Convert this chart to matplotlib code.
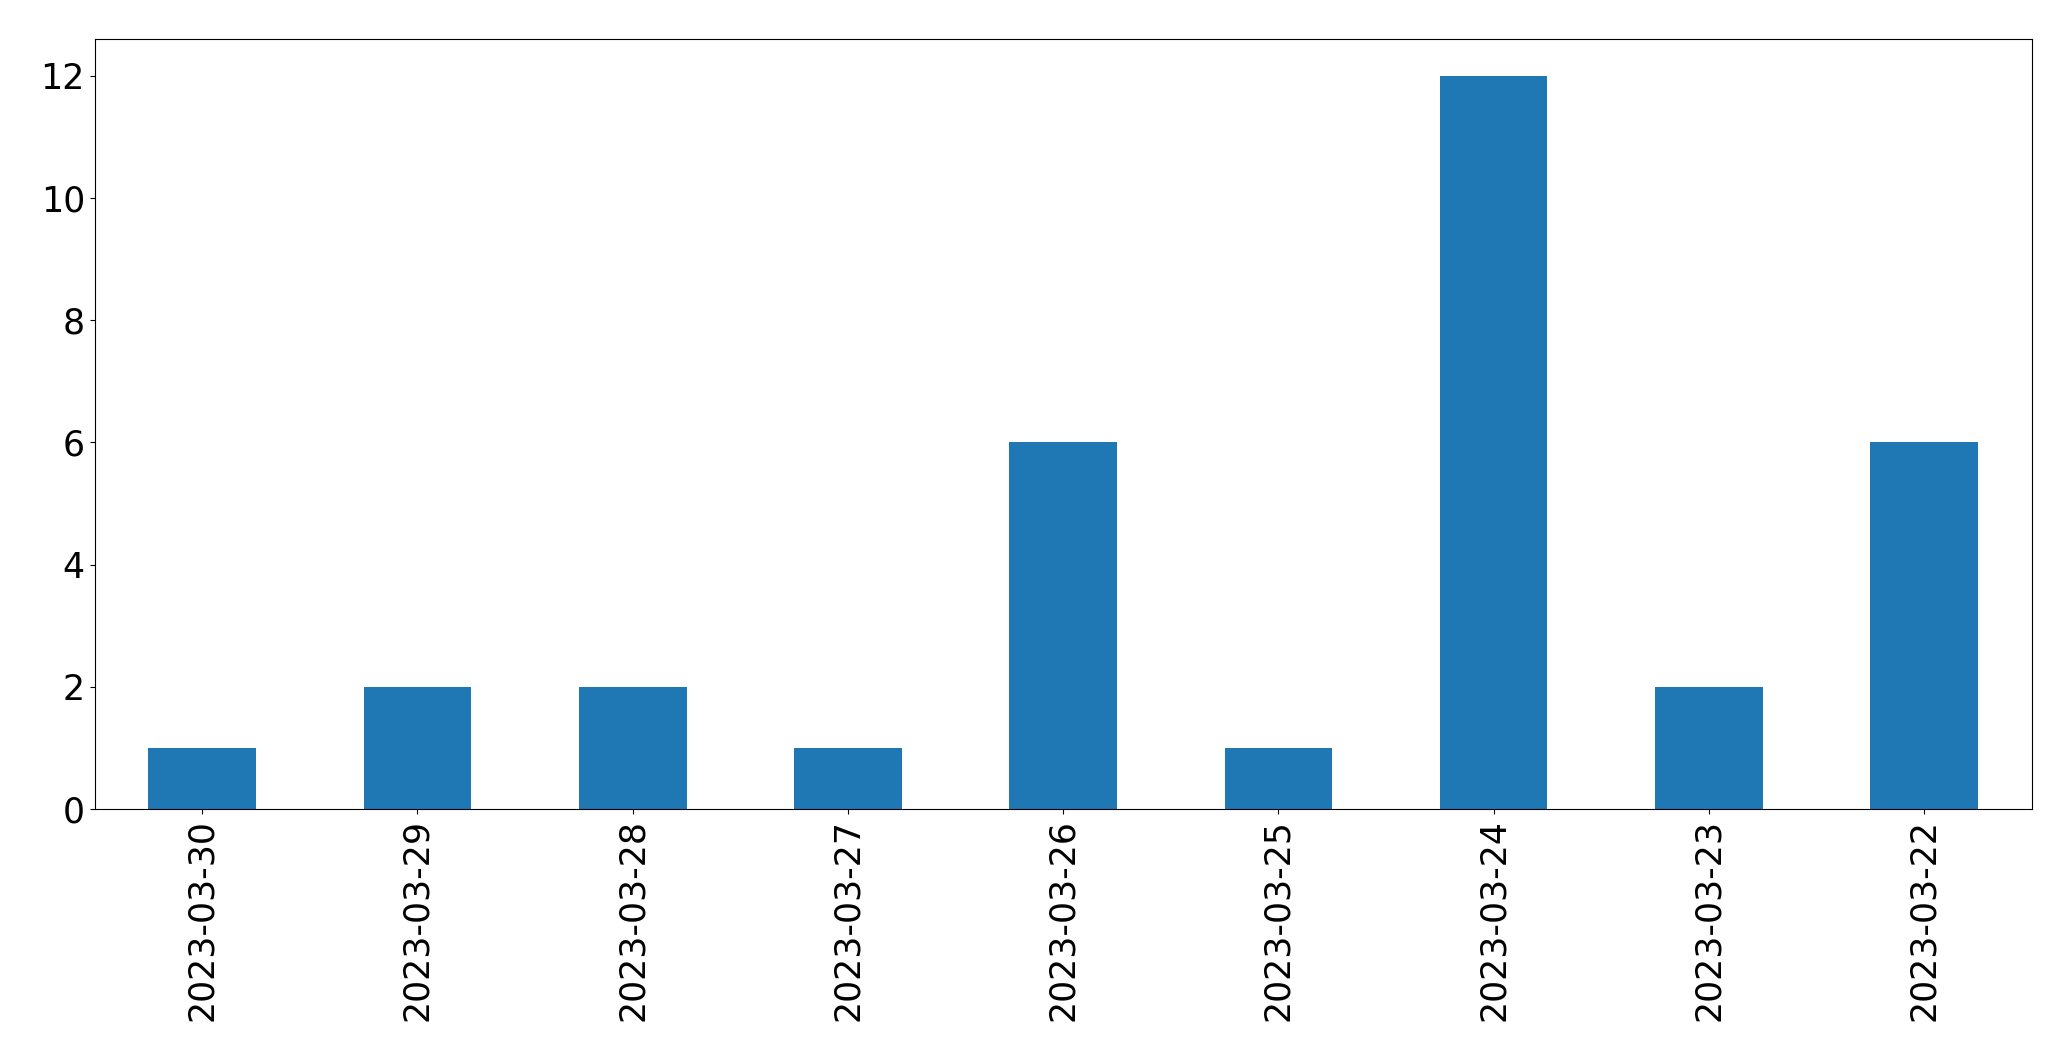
import matplotlib
matplotlib.use("Agg")
import matplotlib.pyplot as plt
import pandas as pd

dates = ["2023-03-30", "2023-03-29", "2023-03-28", "2023-03-27", "2023-03-26",
         "2023-03-25", "2023-03-24", "2023-03-23", "2023-03-22"]
counts = [1, 2, 2, 1, 6, 1, 12, 2, 6]

s = pd.Series(counts, index=dates)

fig = plt.figure(figsize=(20.71, 10.61), dpi=100)
ax = fig.add_axes([0.0457, 0.2375, 0.981 - 0.0457, 0.963 - 0.2375])
s.plot(kind="bar", ax=ax, color="#1f77b4", fontsize=25)

fig.savefig("out.png", dpi=100)
